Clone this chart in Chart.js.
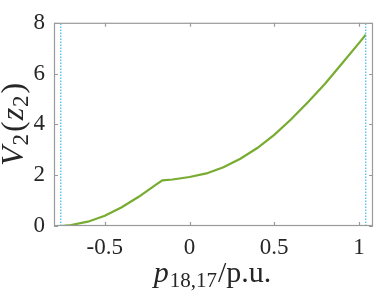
<!DOCTYPE html>
<html>
<head>
<meta charset="utf-8">
<script src="https://cdn.jsdelivr.net/npm/chart.js@4/dist/chart.umd.min.js"></script>
<style>
  html, body { margin: 0; padding: 0; background: #fff; }
  canvas { display: block; }
</style>
</head>
<body>
<canvas id="chart" width="374" height="298"></canvas>
<script>
// p_{18,17} in p.u. and V_2(z_2)
const flowValues = [-0.76, -0.7, -0.6, -0.5, -0.4, -0.3, -0.2, -0.16, -0.1, 0, 0.1, 0.2, 0.3, 0.4, 0.5, 0.6, 0.7, 0.8, 0.9, 1.0, 1.04];
const costValues = [0, 0.04, 0.17, 0.40, 0.74, 1.15, 1.62, 1.80, 1.83, 1.93, 2.07, 2.31, 2.65, 3.07, 3.59, 4.20, 4.88, 5.60, 6.40, 7.20, 7.53];

// flow limits (dotted verticals)
const flowLimits = [-0.76, 1.04];

const xTicks = [-0.5, 0, 0.5, 1];
const yTicks = [0, 2, 4, 6, 8];

const SERIF = "'Liberation Serif', 'Times New Roman', serif";
const textColor = "#262626";
const frameColor = "#9a9a9a";

const curve = flowValues.map((p, i) => ({ x: p, y: costValues[i] }));
const limitSets = flowLimits.map(p => ({
  data: [{ x: p, y: 0 }, { x: p, y: 8 }],
  borderColor: "#4DBEEE",
  borderWidth: 1.3,
  borderDash: [1.5, 1.5],
  pointRadius: 0,
  showLine: true,
}));

function drawRuns(ctx, runs, x, y) {
  let total = 0;
  runs.forEach(r => { ctx.font = r.font; total += ctx.measureText(r.text).width + (r.gap || 0); });
  let cx = x - total / 2;
  ctx.textAlign = "left";
  ctx.textBaseline = "alphabetic";
  runs.forEach(r => {
    ctx.font = r.font;
    ctx.fillText(r.text, cx, y + (r.dy || 0));
    cx += ctx.measureText(r.text).width + (r.gap || 0);
  });
}

const frame = {
  id: "frame",
  afterDraw(chart) {
    const { ctx, chartArea: a, scales } = chart;
    ctx.save();
    ctx.strokeStyle = frameColor;
    ctx.lineWidth = 1.2;
    ctx.strokeRect(a.left + 0.5, a.top + 0.5, a.right - a.left - 1, a.bottom - a.top - 1);
    ctx.beginPath();
    xTicks.forEach(v => {
      const px = Math.round(scales.x.getPixelForValue(v)) + 0.5;
      ctx.moveTo(px, a.bottom); ctx.lineTo(px, a.bottom - 4);
      ctx.moveTo(px, a.top); ctx.lineTo(px, a.top + 4);
    });
    yTicks.forEach(v => {
      const py = Math.round(scales.y.getPixelForValue(v)) + 0.5;
      ctx.moveTo(a.left, py); ctx.lineTo(a.left + 4, py);
      ctx.moveTo(a.right, py); ctx.lineTo(a.right - 4, py);
    });
    ctx.stroke();

    // axis titles with sub-scripts
    ctx.fillStyle = textColor;
    drawRuns(ctx, [
      { text: "p", font: "italic 30px " + SERIF, gap: 1 },
      { text: "18,17", font: "21px " + SERIF, dy: 5, gap: 1 },
      { text: "/p.u.", font: "30px " + SERIF },
    ], (a.left + a.right) / 2 - 1, 282);

    ctx.translate(23, (a.top + a.bottom) / 2);
    ctx.rotate(-Math.PI / 2);
    drawRuns(ctx, [
      { text: "V", font: "italic 32px " + SERIF, gap: 1 },
      { text: "2", font: "23px " + SERIF, dy: 5, gap: 2 },
      { text: "(", font: "32px " + SERIF, gap: 1 },
      { text: "z", font: "italic 32px " + SERIF, gap: 1 },
      { text: "2", font: "23px " + SERIF, dy: 5, gap: 2 },
      { text: ")", font: "32px " + SERIF },
    ], 0, 0);
    ctx.restore();
  },
};

new Chart(document.getElementById("chart"), {
  type: "scatter",
  data: {
    datasets: [
      ...limitSets,
      {
        data: curve,
        borderColor: "#77AC30",
        borderWidth: 2.2,
        pointRadius: 0,
        showLine: true,
        tension: 0,
      },
    ],
  },
  options: {
    responsive: false,
    animation: false,
    devicePixelRatio: 1,
    layout: { padding: { top: 10, right: 1, left: 0, bottom: 0 } },
    plugins: { legend: { display: false }, tooltip: { enabled: false } },
    scales: {
      x: {
        type: "linear",
        min: -0.8,
        max: 1.083,
        afterBuildTicks: s => { s.ticks = xTicks.map(v => ({ value: v })); },
        afterFit: s => { s.height = 72; },
        grid: { display: false, drawTicks: false, tickLength: 0 },
        border: { display: false },
        ticks: {
          color: textColor,
          font: { family: SERIF, size: 23 },
          padding: 8,
          maxRotation: 0,
          callback: v => String(v),
        },
      },
      y: {
        type: "linear",
        min: 0,
        max: 8,
        afterBuildTicks: s => { s.ticks = yTicks.map(v => ({ value: v })); },
        afterFit: s => { s.width = 54; },
        grid: { display: false, drawTicks: false, tickLength: 0 },
        border: { display: false },
        ticks: {
          color: textColor,
          font: { family: SERIF, size: 23 },
          padding: 9,
          callback: v => String(v),
        },
      },
    },
  },
  plugins: [frame],
});
</script>
</body>
</html>
